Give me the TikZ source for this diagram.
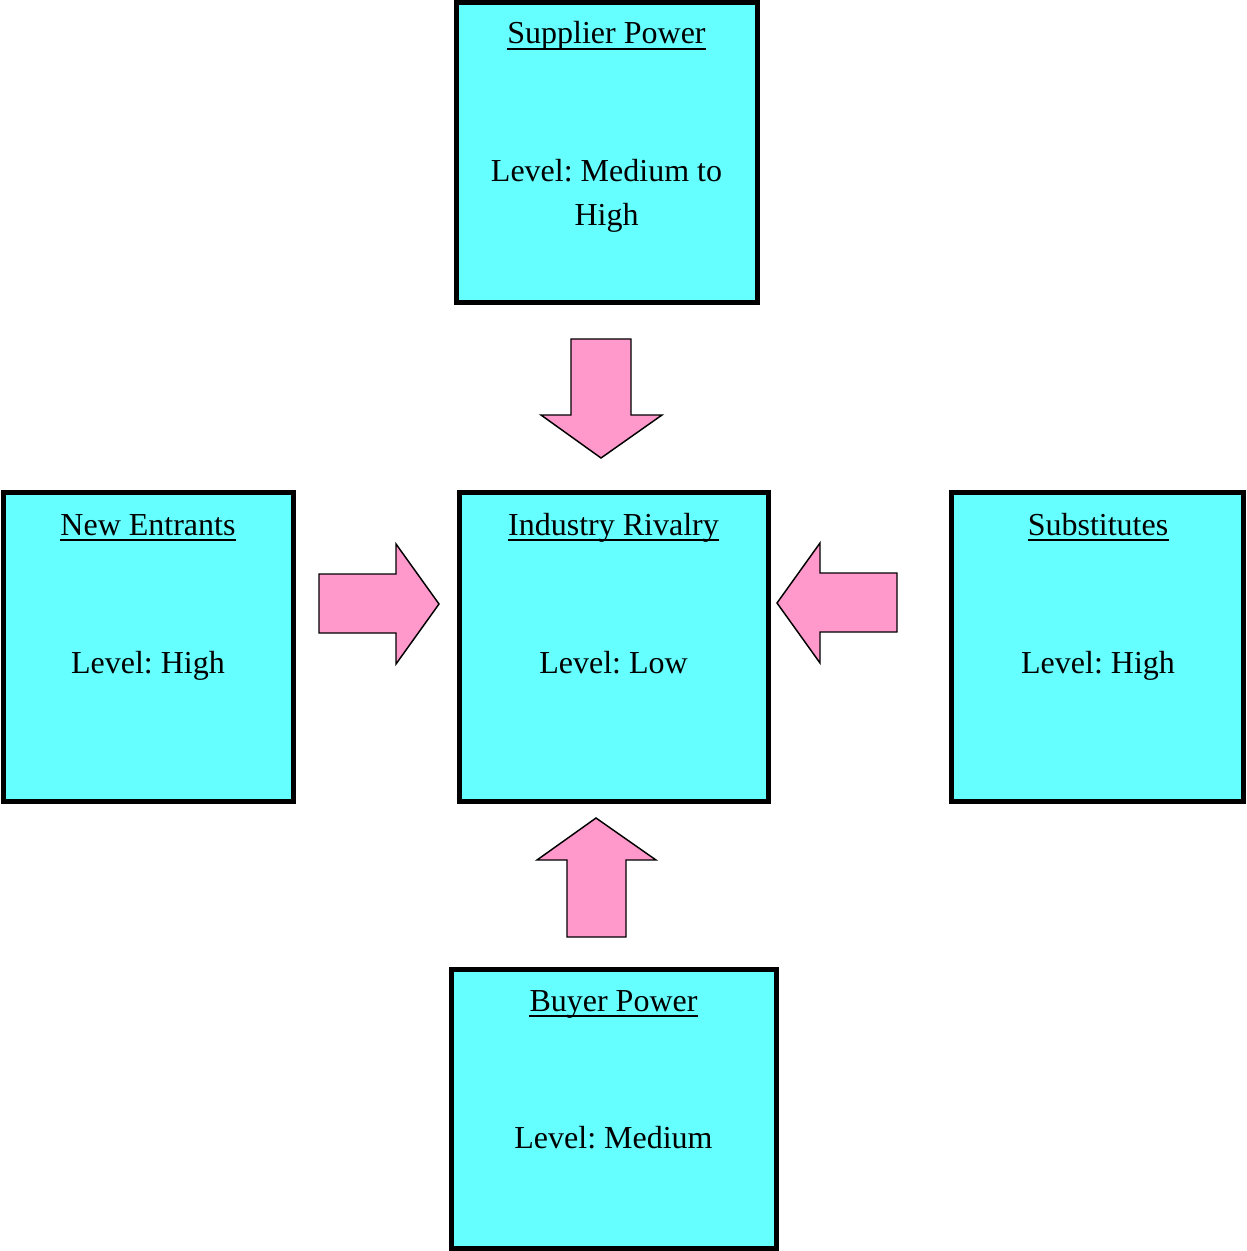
\documentclass[tikz,border=0pt]{standalone}
\usepackage{fontspec}
\setmainfont{Liberation Serif}
\frenchspacing
\definecolor{boxcyan}{HTML}{66FFFF}
\definecolor{arrowpink}{HTML}{FF99CC}
\begin{document}
\begin{tikzpicture}[x=0.75pt,y=-0.75pt,
  forcebox/.style={draw=black, fill=boxcyan, line width=3.75pt, inner sep=0pt},
  titletext/.style={inner sep=0pt, anchor=base, font=\fontsize{24}{33}\selectfont},
  leveltext/.style={inner sep=0pt, anchor=base, align=center, font=\fontsize{24}{33}\selectfont},
  bigarrow/.style={draw=black, fill=arrowpink, line width=1.1pt, line join=miter}]
\useasboundingbox (0,0) rectangle (1246,1251);
% boxes
\node[forcebox, minimum width=301*0.75pt, minimum height=300*0.75pt] (sup) at (606.5,152.5) {};
\node[forcebox, minimum width=290*0.75pt, minimum height=309*0.75pt] (new) at (148,646.5) {};
\node[forcebox, minimum width=309*0.75pt, minimum height=309*0.75pt] (ind) at (613.5,646.5) {};
\node[forcebox, minimum width=292*0.75pt, minimum height=309*0.75pt] (sub) at (1097,646.5) {};
\node[forcebox, minimum width=325*0.75pt, minimum height=279*0.75pt] (buy) at (613.5,1108.5) {};
% titles
\node[titletext] (supt) at (606.5,44) {Supplier Power};
\node[titletext] (newt) at (148,535) {New Entrants};
\node[titletext] (indt) at (613.5,535) {Industry Rivalry};
\node[titletext] (subt) at (1098,535) {Substitutes};
\node[titletext] (buyt) at (613.5,1011) {Buyer Power};
\foreach \t in {supt,newt,indt,subt,buyt}
  \draw[line width=1.4pt] ([yshift=-5*0.75pt]\t.base west) -- ([yshift=-5*0.75pt]\t.base east);
% levels
\node[leveltext] (supl) at (606.5,182) {Level: Medium to};
\node[leveltext] (supl2) at (606.5,226) {High};
\node[leveltext] (newl) at (148,673) {Level: High};
\node[leveltext] (indl) at (613.5,673) {Level: Low};
\node[leveltext] (subl) at (1098,673) {Level: High};
\node[leveltext] (buyl) at (613.5,1148) {Level: Medium};
% arrows
\draw[bigarrow] (571,339) -- (631,339) -- (631,415) -- (662,415) -- (601,458) -- (541,415) -- (571,415) -- cycle;
\draw[bigarrow] (319,574) -- (396,574) -- (396,544) -- (439,604) -- (396,664) -- (396,633) -- (319,633) -- cycle;
\draw[bigarrow] (897,573) -- (820,573) -- (820,543) -- (777,603) -- (820,663) -- (820,632) -- (897,632) -- cycle;
\draw[bigarrow] (567,937) -- (626,937) -- (626,860) -- (656,860) -- (596,818) -- (537,860) -- (567,860) -- cycle;
\end{tikzpicture}
\end{document}
